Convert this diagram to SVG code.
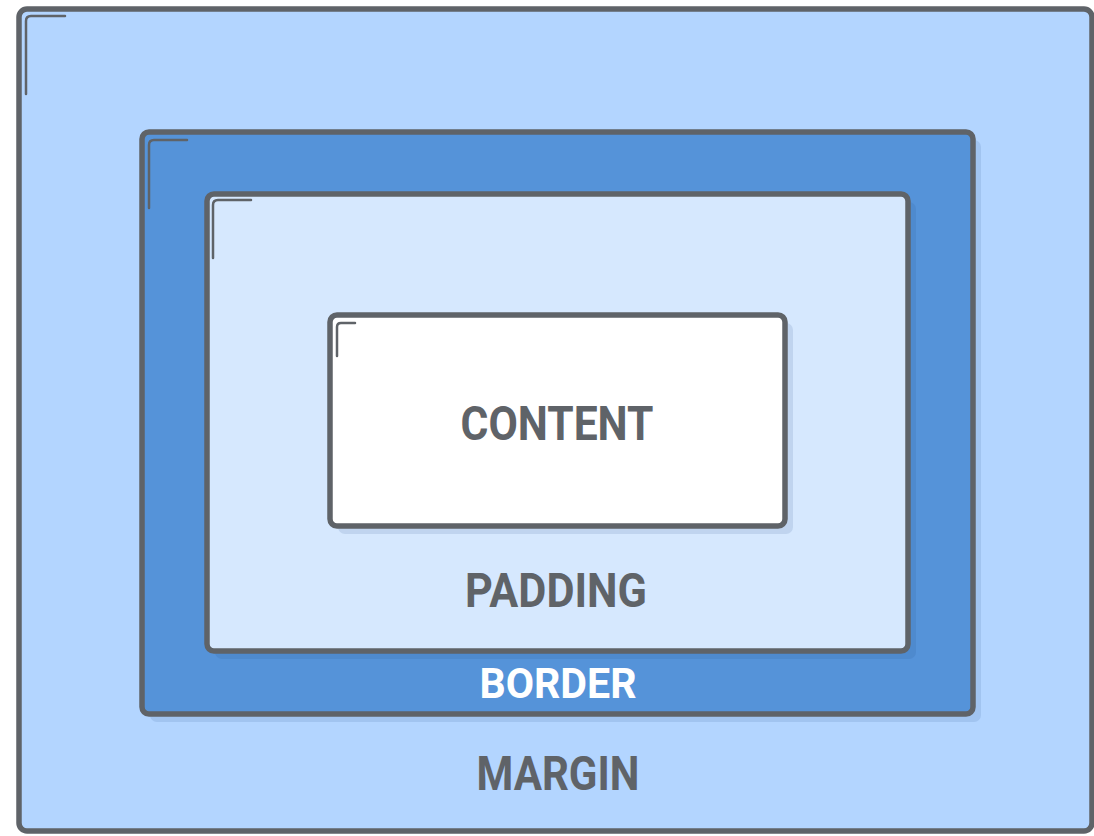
<svg xmlns="http://www.w3.org/2000/svg" width="1094" height="836" viewBox="0 0 1094 836">
<style>
.box{stroke:#5f6368;stroke-width:5.5;}
.shadow{fill:#1e4a86;fill-opacity:0.12;}
.bracket{fill:none;stroke:#5f6368;stroke-width:2.5;stroke-linecap:round;}
.lbl{font-family:Roboto,"Liberation Sans",sans-serif;font-weight:700;text-anchor:middle;fill:#5f6368;}
</style>
<rect width="1094" height="836" fill="#ffffff"/>
<g id="margin">
<rect class="box" x="19" y="9" width="1073" height="822" rx="8" fill="#b3d5ff"/>
<path class="bracket" d="M26,94 V21 Q26,16 31,16 H65"/>
<text class="lbl" x="558" y="790" font-size="48" textLength="163" lengthAdjust="spacingAndGlyphs">MARGIN</text>
</g>
<g id="border">
<rect class="shadow" x="150" y="140" width="831" height="582" rx="7"/>
<rect class="box" x="142" y="132" width="831" height="582" rx="7" fill="#5593d9"/>
<path class="bracket" d="M149,208 V145 Q149,140 154,140 H187"/>
<text class="lbl" x="558" y="698" font-size="42" fill="#ffffff" style="fill:#ffffff" textLength="157" lengthAdjust="spacingAndGlyphs">BORDER</text>
</g>
<g id="padding">
<rect class="shadow" x="215" y="202" width="701" height="457" rx="7"/>
<rect class="box" x="207" y="194" width="701" height="457" rx="7" fill="#d6e8fe"/>
<path class="bracket" d="M213,258 V205 Q213,200 218,200 H251"/>
<text class="lbl" x="556" y="607" font-size="48" textLength="182" lengthAdjust="spacingAndGlyphs">PADDING</text>
</g>
<g id="content">
<rect class="shadow" x="338" y="323" width="455" height="211" rx="7"/>
<rect class="box" x="330" y="315" width="455" height="211" rx="7" fill="#ffffff"/>
<path class="bracket" d="M337,356 V327 Q337,323 341,323 H355"/>
<text class="lbl" x="557" y="440" font-size="48" textLength="193" lengthAdjust="spacingAndGlyphs">CONTENT</text>
</g>
<g id="connectors"></g>
</svg>
